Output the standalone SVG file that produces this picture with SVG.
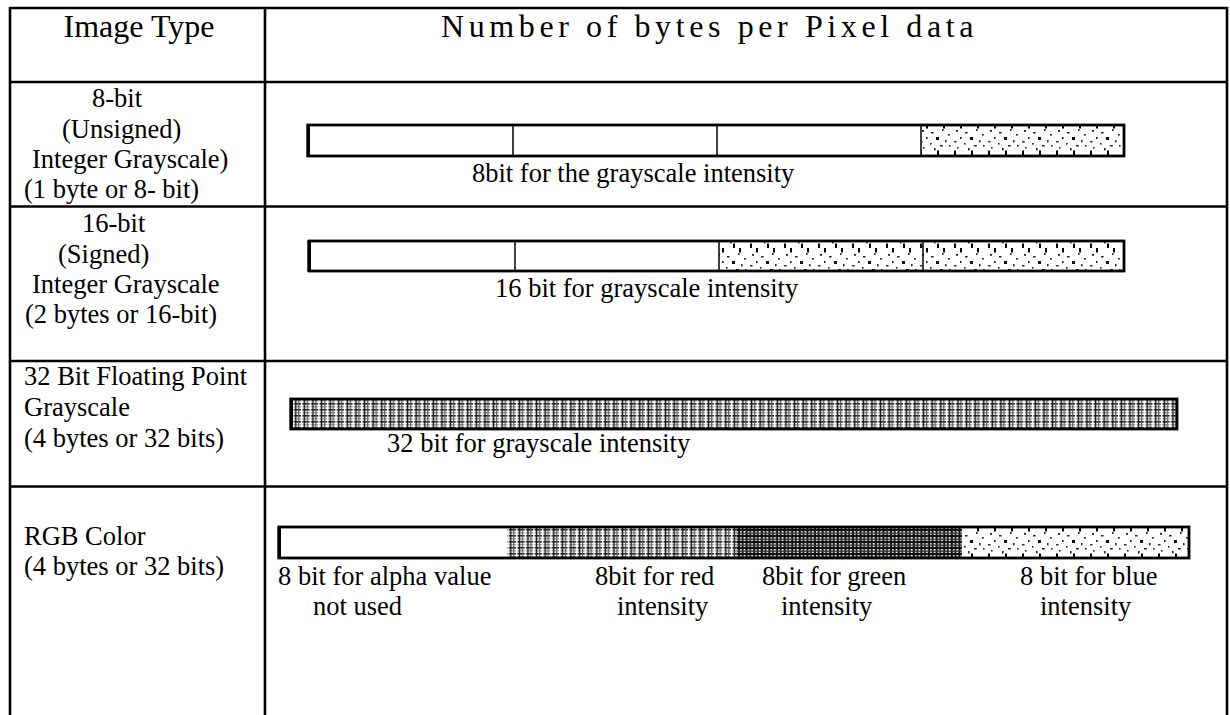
<svg xmlns="http://www.w3.org/2000/svg" width="1230" height="715" viewBox="0 0 1230 715">
  <style>
    .grid { stroke: #000; stroke-width: 2.6; fill: none; }
    .hd { font-family: "Liberation Serif", "Times New Roman", serif; font-size: 32px; fill: #000; }
    .wide { letter-spacing: 4.6px; }
    .tx { font-family: "Liberation Serif", "Times New Roman", serif; font-size: 26.5px; fill: #000; }
    .bar { fill: none; stroke: #000; stroke-width: 2.8; }
    .div { stroke: #111; stroke-width: 1.6; }
    .edge { fill: #000; }
  </style>
  <defs>
    <!-- stippled fill: sparse dots scattered on white -->
    <pattern id="stipple" patternUnits="userSpaceOnUse" width="34" height="31" x="0" y="0">
      <rect width="34" height="31" fill="#fff"/>
      <rect x="4" y="6" width="2" height="1.8" fill="#222"/>
      <rect x="13" y="8" width="2.6" height="1.5" fill="#222"/>
      <rect x="24" y="5" width="1.6" height="2" fill="#333"/>
      <rect x="30" y="10" width="1.8" height="1.6" fill="#222"/>
      <rect x="8" y="13" width="1.6" height="2" fill="#222"/>
      <rect x="18" y="13" width="3" height="3" fill="#111"/>
      <rect x="27" y="16" width="1.6" height="2.4" fill="#333"/>
      <rect x="2" y="17" width="2.6" height="1.5" fill="#333"/>
      <rect x="12" y="19" width="1.6" height="1.6" fill="#222"/>
      <rect x="22" y="21" width="2.8" height="1.5" fill="#222"/>
      <rect x="31" y="21" width="1.6" height="1.6" fill="#222"/>
      <rect x="5" y="23" width="1.6" height="1.6" fill="#333"/>
      <rect x="16" y="24" width="1.6" height="2.4" fill="#222"/>
    </pattern>
    <!-- light plaid: white warp stripes over a dark weave -->
    <pattern id="plaidLight" patternUnits="userSpaceOnUse" width="8.6" height="6" x="0" y="1">
      <rect width="8.6" height="6" fill="#fff"/>
      <rect x="0" y="0" width="8.6" height="1.6" fill="#222"/>
      <rect x="0" y="3.4" width="8.6" height="0.9" fill="#777"/>
      <rect x="2.6" y="0" width="1.5" height="6" fill="#1a1a1a"/>
      <rect x="5.8" y="0" width="1.2" height="6" fill="#555"/>
      <rect x="0" y="0" width="1.4" height="6" fill="#fff"/>
    </pattern>
    <!-- dense plaid: heavy dark weave with small gaps -->
    <pattern id="plaidDark" patternUnits="userSpaceOnUse" width="7.6" height="6" x="0" y="1">
      <rect width="7.6" height="6" fill="#fff"/>
      <rect x="0.6" y="0" width="2.4" height="6" fill="#111"/>
      <rect x="4.4" y="0" width="2" height="6" fill="#1a1a1a"/>
      <rect x="0" y="0" width="7.6" height="2" fill="#111"/>
      <rect x="0" y="3.6" width="7.6" height="1.2" fill="#333"/>
    </pattern>
    <!-- short ticks hanging from the top and bottom of stippled cells -->
    <pattern id="ticks" patternUnits="userSpaceOnUse" width="17" height="31" x="0" y="0">
      <rect x="8" y="0" width="2" height="4.5" fill="#000"/>
      <rect x="2" y="26.5" width="2" height="4.5" fill="#000"/>
    </pattern>
  </defs>

  <!-- table grid -->
  <g id="table-grid">
    <path class="grid" d="M10 715 V8 H1227 V715"/>
    <line class="grid" x1="265" y1="8" x2="265" y2="715"/>
    <line class="grid" x1="10" y1="82" x2="1227" y2="82"/>
    <line class="grid" x1="10" y1="206.5" x2="1227" y2="206.5"/>
    <line class="grid" x1="10" y1="361" x2="1227" y2="361"/>
    <line class="grid" x1="10" y1="486.5" x2="1227" y2="486.5"/>
  </g>

  <!-- header row -->
  <g id="header">
    <text class="hd" x="139" y="37" text-anchor="middle">Image Type</text>
    <text class="hd wide" x="441" y="37">Number of bytes per Pixel data</text>
  </g>

  <!-- 8-bit unsigned integer grayscale -->
  <g id="row-8bit">
    <text class="tx" x="92" y="107">8-bit</text>
    <text class="tx" x="62" y="138">(Unsigned)</text>
    <text class="tx" x="32" y="168">Integer Grayscale)</text>
    <text class="tx" x="24" y="198">(1 byte or 8- bit)</text>
    <rect x="921" y="125" width="203" height="31" fill="url(#stipple)"/>
    <rect x="921" y="125" width="203" height="31" fill="url(#ticks)"/>
    <rect class="bar" x="308" y="125" width="816" height="31"/>
    <rect class="edge" x="306.5" y="124" width="3.5" height="33"/>
    <line class="div" x1="513" y1="125" x2="513" y2="156"/>
    <line class="div" x1="717" y1="125" x2="717" y2="156"/>
    <line class="div" x1="921" y1="125" x2="921" y2="156"/>
    <text class="tx" x="472" y="182">8bit for the grayscale intensity</text>
  </g>

  <!-- 16-bit signed integer grayscale -->
  <g id="row-16bit">
    <text class="tx" x="82" y="232">16-bit</text>
    <text class="tx" x="58" y="263">(Signed)</text>
    <text class="tx" x="32" y="293">Integer Grayscale</text>
    <text class="tx" x="25" y="323">(2 bytes or 16-bit)</text>
    <rect x="719" y="241" width="405" height="30" fill="url(#stipple)"/>
    <rect x="719" y="241" width="405" height="30" fill="url(#ticks)"/>
    <rect class="bar" x="309" y="241" width="815" height="30"/>
    <rect class="edge" x="307.5" y="240" width="3.5" height="32"/>
    <line class="div" x1="515" y1="241" x2="515" y2="271"/>
    <line class="div" x1="719" y1="241" x2="719" y2="271"/>
    <line class="div" x1="923" y1="241" x2="923" y2="271"/>
    <text class="tx" x="495" y="297">16 bit for grayscale intensity</text>
  </g>

  <!-- 32-bit floating point grayscale -->
  <g id="row-32bit-float">
    <text class="tx" x="24" y="385">32 Bit Floating Point</text>
    <text class="tx" x="24" y="416">Grayscale</text>
    <text class="tx" x="24" y="447">(4 bytes or 32 bits)</text>
    <rect x="291" y="399" width="886" height="30" fill="url(#plaidLight)"/>
    <rect class="bar" x="291" y="399" width="886" height="30"/>
    <rect class="edge" x="289.5" y="398" width="3.5" height="32"/>
    <text class="tx" x="387" y="452">32 bit for grayscale intensity</text>
  </g>

  <!-- RGB colour -->
  <g id="row-rgb">
    <text class="tx" x="24" y="545">RGB Color</text>
    <text class="tx" x="24" y="575">(4 bytes or 32 bits)</text>
    <rect x="507" y="527" width="230" height="31" fill="url(#plaidLight)"/>
    <rect x="737" y="527" width="225" height="31" fill="url(#plaidDark)"/>
    <rect x="962" y="527" width="227" height="31" fill="url(#stipple)"/>
    <rect x="962" y="527" width="227" height="31" fill="url(#ticks)"/>
    <rect class="bar" x="279" y="527" width="910" height="31"/>
    <rect class="edge" x="277.5" y="526" width="3.5" height="33"/>
    <text class="tx" x="278" y="585">8 bit for alpha value</text>
    <text class="tx" x="313" y="615">not used</text>
    <text class="tx" x="595" y="585">8bit for red</text>
    <text class="tx" x="617" y="615">intensity</text>
    <text class="tx" x="762" y="585">8bit for green</text>
    <text class="tx" x="781" y="615">intensity</text>
    <text class="tx" x="1020" y="585">8 bit for blue</text>
    <text class="tx" x="1040" y="615">intensity</text>
  </g>
</svg>
